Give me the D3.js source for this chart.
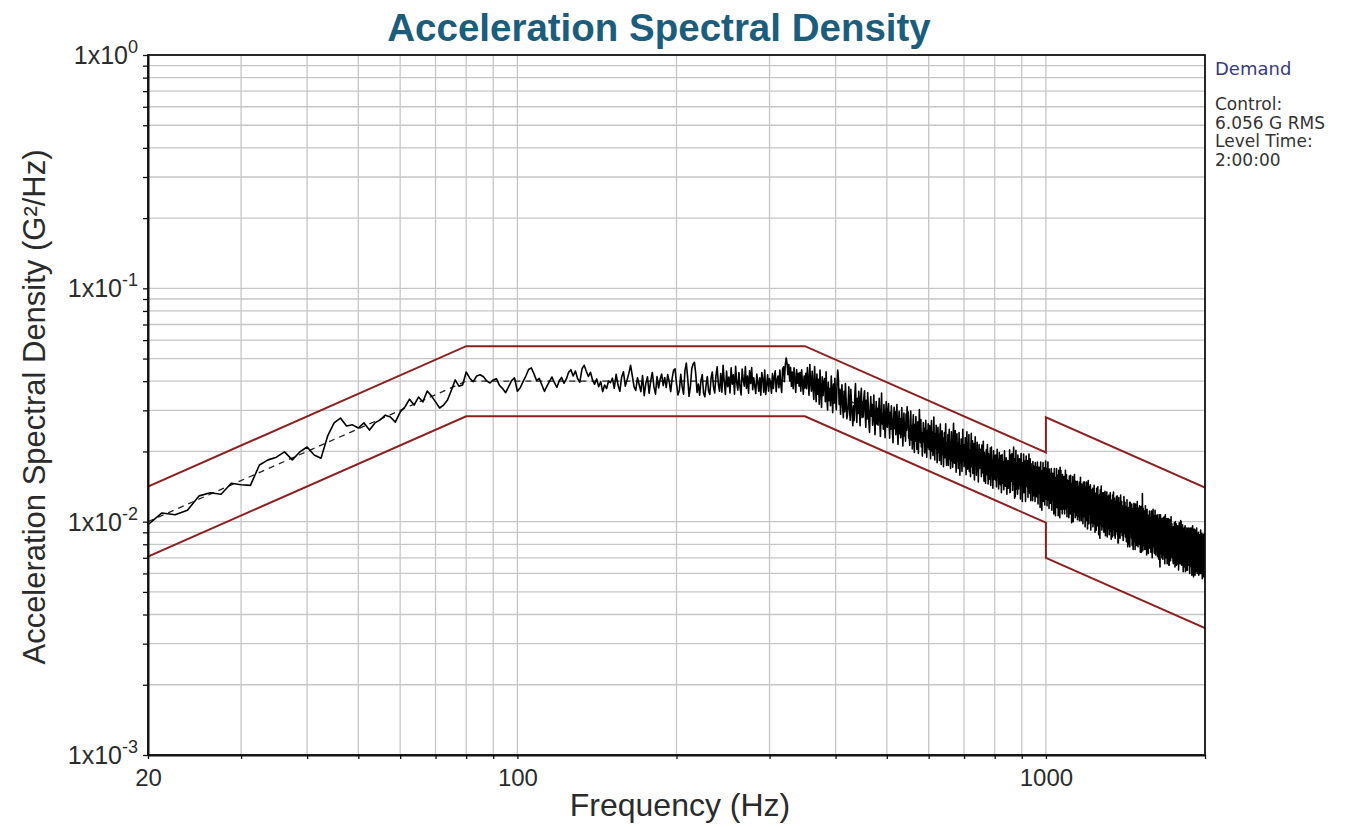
<!DOCTYPE html>
<html>
<head>
<meta charset="utf-8">
<script src="https://cdn.jsdelivr.net/npm/d3@7"></script>
<style>
  body { margin: 0; background: #ffffff; }
  svg { display: block; font-family: Arial, "Liberation Sans", sans-serif; }
</style>
</head>
<body>
<svg id="chart" width="1350" height="827"></svg>
<script>
// ---- Axis ranges and labels ----
const freqDomain = [20, 2000];
const psdDomain = [0.001, 1];
const xTickLabels = [20, 100, 1000];
const yTickExponents = [0, -1, -2, -3];

// ---- Demand profile (G²/Hz) ----
const demandFreq = [20, 80, 350, 2000];
const demandPsd = [0.01, 0.04, 0.04, 0.007];

// ---- Abort limits (G²/Hz) ----
const upperFreq = [20, 80, 350, 1000, 1000, 2000];
const upperPsd = [0.01413, 0.0565, 0.0565, 0.0198, 0.028, 0.014];
const lowerFreq = [20, 80, 350, 1000, 1000, 2000];
const lowerPsd = [0.00708, 0.0283, 0.0283, 0.0099, 0.007, 0.0035];

// ---- Control spectrum, 1.25 Hz lines from 20 Hz ----
const controlStartHz = 20;
const controlStepHz = 1.25;
const controlPsd = [
  // 20 – 80 Hz
  0.0097, 0.0109, 0.0107, 0.0112, 0.0129, 0.0133, 0.0131, 0.0146, 0.0144, 0.0143,
  0.0175, 0.0184, 0.0189, 0.0199, 0.0184, 0.0199, 0.0209, 0.0193, 0.0187, 0.0233,
  0.0265, 0.0278, 0.0257, 0.0260, 0.0252, 0.0265, 0.0247, 0.0265, 0.0273, 0.0286,
  0.0281, 0.0267, 0.0295, 0.0310, 0.0335, 0.0316, 0.0342, 0.0326, 0.0363, 0.0346,
  0.0326, 0.0307, 0.0316, 0.0332, 0.0366, 0.0405, 0.0381, 0.0385, 0.0438,
  // 81.25 – 350 Hz
  0.0412, 0.0398, 0.0421, 0.0426, 0.0418, 0.0401, 0.0393, 0.0405,
  0.0410, 0.0384, 0.0372, 0.0357, 0.0379, 0.0402, 0.0413, 0.0362,
  0.0375, 0.0398, 0.0421, 0.0449, 0.0456, 0.0430, 0.0402, 0.0411,
  0.0385, 0.0362, 0.0381, 0.0399, 0.0417, 0.0394, 0.0376, 0.0402,
  0.0415, 0.0392, 0.0408, 0.0437, 0.0448, 0.0421, 0.0442, 0.0410,
  0.0396, 0.0452, 0.0468, 0.0441, 0.0419, 0.0437, 0.0404, 0.0388,
  0.0409, 0.0379, 0.0398, 0.0361, 0.0385, 0.0372, 0.0401, 0.0394,
  0.0412, 0.0373, 0.0428, 0.0385, 0.0362, 0.0417, 0.0439, 0.0381,
  0.0405, 0.0432, 0.0468, 0.0421, 0.0378, 0.0365, 0.0414, 0.0386,
  0.0361, 0.0423, 0.0347, 0.0392, 0.0418, 0.0355, 0.0401, 0.0436,
  0.0379, 0.0352, 0.0419, 0.0374, 0.0408, 0.0429, 0.0383, 0.0415,
  0.0376, 0.0427, 0.0398, 0.0361, 0.0411, 0.0446, 0.0452, 0.0391,
  0.0349, 0.0366, 0.0428, 0.0379, 0.0352, 0.0445, 0.0478, 0.0412,
  0.0344, 0.0381, 0.0452, 0.0474, 0.0482, 0.0431, 0.0358, 0.0389,
  0.0348, 0.0403, 0.0427, 0.0356, 0.0343, 0.0385, 0.0419, 0.0362,
  0.0351, 0.0412, 0.0438, 0.0377, 0.0356, 0.0422, 0.0461, 0.0389,
  0.0362, 0.0431, 0.0359, 0.0468, 0.0398, 0.0351, 0.0442, 0.0379,
  0.0417, 0.0356, 0.0457, 0.0388, 0.0426, 0.0352, 0.0463, 0.0394,
  0.0366, 0.0436, 0.0378, 0.0349, 0.0451, 0.0405, 0.0381, 0.0462,
  0.0372, 0.0421, 0.0355, 0.0443, 0.0391, 0.0458, 0.0368, 0.0414,
  0.0381, 0.0354, 0.0429, 0.0396, 0.0362, 0.0414, 0.0348, 0.0436,
  0.0408, 0.0359, 0.0447, 0.0351, 0.0389, 0.0426, 0.0362, 0.0411,
  0.0392, 0.0355, 0.0431, 0.0372, 0.0418, 0.0443, 0.0361, 0.0404,
  0.0421, 0.0375, 0.0446, 0.0389, 0.0358, 0.0452, 0.0461, 0.0398,
  0.0468, 0.0503, 0.0479, 0.0426, 0.0471, 0.0402, 0.0459, 0.0381,
  0.0438, 0.0371, 0.0457, 0.0406, 0.0358, 0.0449, 0.0392, 0.0432,
  0.0381, 0.0436, 0.0362, 0.0448, 0.0393, 0.0352, 0.0421, 0.0374,
  // 351.25 – 2000 Hz
  0.0432, 0.0371, 0.0458, 0.0402, 0.0348, 0.0471, 0.0395, 0.0362,
  0.0441, 0.0378, 0.0334, 0.0462, 0.0386, 0.0327, 0.0429, 0.0352,
  0.0408, 0.0319, 0.0447, 0.0361, 0.0309, 0.0418, 0.0347, 0.0392,
  0.0411, 0.0327, 0.0439, 0.0345, 0.0301, 0.0396, 0.0331, 0.0372,
  0.0314, 0.0421, 0.0356, 0.0293, 0.0389, 0.0322, 0.0412, 0.0338,
  0.0302, 0.0391, 0.0447, 0.0408, 0.0318, 0.0369, 0.0289, 0.0352,
  0.0386, 0.0309, 0.0279, 0.0362, 0.0296, 0.0391, 0.0331, 0.0276,
  0.0287, 0.0321, 0.0378, 0.0305, 0.0272, 0.0369, 0.0318, 0.0283,
  0.0258, 0.0314, 0.0271, 0.0352, 0.0391, 0.0302, 0.0266, 0.0338,
  0.0291, 0.0362, 0.0308, 0.0258, 0.0344, 0.0373, 0.0279, 0.0327,
  0.0281, 0.0342, 0.0364, 0.0296, 0.0254, 0.0331, 0.0275, 0.0358,
  0.0312, 0.0267, 0.0241, 0.0299, 0.0344, 0.0283, 0.0318, 0.0259,
  0.0301, 0.0349, 0.0268, 0.0236, 0.0289, 0.0327, 0.0262, 0.0306,
  0.0259, 0.0298, 0.0338, 0.0271, 0.0232, 0.0286, 0.0356, 0.0262,
  0.0291, 0.0249, 0.0318, 0.0274, 0.0229, 0.0283, 0.0327, 0.0256,
  0.0254, 0.0302, 0.0321, 0.0263, 0.0228, 0.0294, 0.0249, 0.0314,
  0.0281, 0.0239, 0.0218, 0.0272, 0.0309, 0.0251, 0.0296, 0.0236,
  0.0279, 0.0318, 0.0243, 0.0214, 0.0262, 0.0297, 0.0238, 0.0276,
  0.0229, 0.0271, 0.0308, 0.0247, 0.0211, 0.0258, 0.0292, 0.0233,
  0.0264, 0.0221, 0.0289, 0.0246, 0.0311, 0.0253, 0.0296, 0.0228,
  0.0236, 0.0212, 0.0271, 0.0298, 0.0224, 0.0259, 0.0205, 0.0254,
  0.0287, 0.0229, 0.0198, 0.0261, 0.0221, 0.0282, 0.0246, 0.0204,
  0.0232, 0.0268, 0.0196, 0.0241, 0.0302, 0.0253, 0.0218, 0.0274,
  0.0209, 0.0241, 0.0191, 0.0226, 0.0266, 0.0219, 0.0251, 0.0197,
  0.0228, 0.0272, 0.0214, 0.0189, 0.0246, 0.0208, 0.0263, 0.0225,
  0.0204, 0.0258, 0.0219, 0.0186, 0.0237, 0.0271, 0.0201, 0.0242,
  0.0192, 0.0233, 0.0281, 0.0217, 0.0184, 0.0239, 0.0206, 0.0259,
  0.0221, 0.0179, 0.0212, 0.0254, 0.0198, 0.0236, 0.0183, 0.0229,
  0.0262, 0.0207, 0.0176, 0.0218, 0.0245, 0.0194, 0.0228, 0.0172,
  0.0203, 0.0241, 0.0188, 0.0224, 0.0263, 0.0196, 0.0174, 0.0219,
  0.0197, 0.0236, 0.0174, 0.0212, 0.0249, 0.0186, 0.0221, 0.0169,
  0.0208, 0.0243, 0.0182, 0.0219, 0.0171, 0.0232, 0.0264, 0.0193,
  0.0178, 0.0212, 0.0246, 0.0189, 0.0163, 0.0203, 0.0238, 0.0181,
  0.0217, 0.0169, 0.0198, 0.0241, 0.0186, 0.0158, 0.0212, 0.0179,
  0.0226, 0.0191, 0.0164, 0.0203, 0.0249, 0.0182, 0.0214, 0.0172,
  0.0206, 0.0174, 0.0229, 0.0188, 0.0159, 0.0214, 0.0243, 0.0177,
  0.0168, 0.0218, 0.0191, 0.0236, 0.0164, 0.0203, 0.0182, 0.0156,
  0.0211, 0.0239, 0.0172, 0.0194, 0.0222, 0.0161, 0.0187, 0.0216,
  0.0173, 0.0151, 0.0201, 0.0231, 0.0176, 0.0206, 0.0158, 0.0189,
  0.0219, 0.0165, 0.0194, 0.0148, 0.0186, 0.0214, 0.0169, 0.0199,
  0.0171, 0.0204, 0.0178, 0.0156, 0.0213, 0.0186, 0.0162, 0.0197,
  0.0221, 0.0169, 0.0149, 0.0198, 0.0166, 0.0192, 0.0146, 0.0181,
  0.0203, 0.0159, 0.0184, 0.0214, 0.0167, 0.0145, 0.0196, 0.0178,
  0.0152, 0.0188, 0.0164, 0.0207, 0.0143, 0.0176, 0.0209, 0.0158,
  0.0184, 0.0155, 0.0139, 0.0181, 0.0201, 0.0152, 0.0172, 0.0192,
  0.0173, 0.0151, 0.0193, 0.0179, 0.0141, 0.0167, 0.0204, 0.0155,
  0.0186, 0.0161, 0.0138, 0.0176, 0.0198, 0.0149, 0.0171, 0.0144,
  0.0192, 0.0166, 0.0133, 0.0157, 0.0194, 0.0169, 0.0146, 0.0181,
  0.0156, 0.0137, 0.0174, 0.0201, 0.0149, 0.0171, 0.0142, 0.0163,
  0.0188, 0.0147, 0.0131, 0.0168, 0.0154, 0.0183, 0.0139, 0.0162,
  0.0183, 0.0144, 0.0203, 0.0133, 0.0134, 0.0193, 0.0167, 0.0149,
  0.0150, 0.0196, 0.0170, 0.0136, 0.0186, 0.0157, 0.0209, 0.0144,
  0.0173, 0.0126, 0.0186, 0.0128, 0.0144, 0.0202, 0.0138, 0.0176,
  0.0152, 0.0179, 0.0131, 0.0193, 0.0165, 0.0138, 0.0185, 0.0157,
  0.0186, 0.0144, 0.0167, 0.0125, 0.0174, 0.0196, 0.0147, 0.0161,
  0.0167, 0.0122, 0.0179, 0.0156, 0.0139, 0.0195, 0.0133, 0.0170,
  0.0182, 0.0141, 0.0164, 0.0122, 0.0170, 0.0191, 0.0144, 0.0158,
  0.0141, 0.0183, 0.0159, 0.0127, 0.0174, 0.0147, 0.0195, 0.0135,
  0.0168, 0.0132, 0.0186, 0.0142, 0.0123, 0.0177, 0.0153, 0.0136,
  0.0142, 0.0167, 0.0123, 0.0181, 0.0154, 0.0129, 0.0173, 0.0147,
  0.0141, 0.0166, 0.0122, 0.0179, 0.0152, 0.0128, 0.0172, 0.0145,
  0.0163, 0.0128, 0.0180, 0.0138, 0.0119, 0.0171, 0.0148, 0.0132,
  0.0171, 0.0132, 0.0154, 0.0115, 0.0159, 0.0180, 0.0135, 0.0148,
  0.0153, 0.0112, 0.0165, 0.0144, 0.0128, 0.0179, 0.0122, 0.0156,
  0.0131, 0.0170, 0.0148, 0.0118, 0.0162, 0.0137, 0.0182, 0.0125,
  0.0130, 0.0169, 0.0146, 0.0117, 0.0160, 0.0135, 0.0180, 0.0124,
  0.0132, 0.0156, 0.0114, 0.0168, 0.0143, 0.0120, 0.0161, 0.0137,
  0.0153, 0.0120, 0.0169, 0.0130, 0.0112, 0.0161, 0.0139, 0.0124,
  0.0161, 0.0124, 0.0145, 0.0108, 0.0150, 0.0169, 0.0127, 0.0139,
  0.0145, 0.0106, 0.0155, 0.0135, 0.0121, 0.0169, 0.0115, 0.0147,
  0.0158, 0.0122, 0.0142, 0.0106, 0.0147, 0.0166, 0.0125, 0.0137,
  0.0142, 0.0104, 0.0171, 0.0133, 0.0118, 0.0166, 0.0113, 0.0145,
  0.0125, 0.0147, 0.0108, 0.0159, 0.0135, 0.0113, 0.0152, 0.0129,
  0.0120, 0.0156, 0.0135, 0.0108, 0.0148, 0.0125, 0.0166, 0.0115,
  0.0143, 0.0113, 0.0159, 0.0122, 0.0105, 0.0151, 0.0130, 0.0116,
  0.0115, 0.0129, 0.0150, 0.0104, 0.0120, 0.0157, 0.0111, 0.0142,
  0.0138, 0.0108, 0.0158, 0.0113, 0.0127, 0.0146, 0.0099, 0.0136,
  0.0128, 0.0117, 0.0156, 0.0138, 0.0100, 0.0133, 0.0114, 0.0148,
  0.0110, 0.0159, 0.0120, 0.0142, 0.0104, 0.0129, 0.0149, 0.0115,
  0.0121, 0.0143, 0.0106, 0.0127, 0.0149, 0.0102, 0.0138, 0.0117,
  0.0120, 0.0142, 0.0105, 0.0126, 0.0148, 0.0101, 0.0137, 0.0116,
  0.0107, 0.0155, 0.0117, 0.0138, 0.0101, 0.0126, 0.0145, 0.0112,
  0.0108, 0.0121, 0.0141, 0.0098, 0.0113, 0.0148, 0.0105, 0.0133,
  0.0122, 0.0111, 0.0148, 0.0131, 0.0095, 0.0126, 0.0109, 0.0141,
  0.0129, 0.0101, 0.0148, 0.0106, 0.0118, 0.0136, 0.0093, 0.0127,
  0.0103, 0.0150, 0.0113, 0.0134, 0.0098, 0.0122, 0.0141, 0.0108,
  0.0119, 0.0108, 0.0144, 0.0128, 0.0092, 0.0123, 0.0106, 0.0137,
  0.0113, 0.0134, 0.0099, 0.0119, 0.0139, 0.0095, 0.0129, 0.0110,
  0.0125, 0.0098, 0.0143, 0.0102, 0.0115, 0.0132, 0.0090, 0.0122,
  0.0102, 0.0115, 0.0133, 0.0092, 0.0107, 0.0139, 0.0099, 0.0126,
  0.0123, 0.0096, 0.0141, 0.0100, 0.0113, 0.0129, 0.0088, 0.0121,
  0.0101, 0.0113, 0.0131, 0.0085, 0.0105, 0.0137, 0.0097, 0.0124,
  0.0098, 0.0142, 0.0107, 0.0126, 0.0092, 0.0115, 0.0133, 0.0102,
  0.0108, 0.0127, 0.0095, 0.0113, 0.0133, 0.0090, 0.0123, 0.0105,
  0.0111, 0.0102, 0.0135, 0.0120, 0.0087, 0.0116, 0.0099, 0.0129,
  0.0111, 0.0101, 0.0134, 0.0119, 0.0086, 0.0115, 0.0099, 0.0128,
  0.0105, 0.0125, 0.0093, 0.0111, 0.0130, 0.0088, 0.0120, 0.0102,
  0.0116, 0.0091, 0.0133, 0.0095, 0.0107, 0.0123, 0.0084, 0.0114,
  0.0096, 0.0107, 0.0124, 0.0086, 0.0100, 0.0130, 0.0092, 0.0118,
  0.0093, 0.0134, 0.0101, 0.0120, 0.0087, 0.0109, 0.0126, 0.0097,
  0.0098, 0.0085, 0.0122, 0.0105, 0.0094, 0.0116, 0.0091, 0.0128,
  0.0104, 0.0092, 0.0129, 0.0088, 0.0113, 0.0111, 0.0081, 0.0119,
  0.0081, 0.0113, 0.0127, 0.0096, 0.0105, 0.0121, 0.0094, 0.0109,
  0.0085, 0.0116, 0.0098, 0.0130, 0.0090, 0.0094, 0.0122, 0.0106,
  0.0122, 0.0104, 0.0087, 0.0117, 0.0099, 0.0096, 0.0113, 0.0083,
  0.0084, 0.0115, 0.0097, 0.0128, 0.0089, 0.0093, 0.0121, 0.0105,
  0.0121, 0.0103, 0.0086, 0.0116, 0.0098, 0.0095, 0.0112, 0.0082,
  0.0099, 0.0088, 0.0124, 0.0084, 0.0108, 0.0106, 0.0078, 0.0114,
  0.0093, 0.0080, 0.0115, 0.0100, 0.0089, 0.0109, 0.0086, 0.0121,
  0.0078, 0.0108, 0.0121, 0.0091, 0.0100, 0.0115, 0.0089, 0.0104,
  0.0108, 0.0085, 0.0119, 0.0091, 0.0079, 0.0114, 0.0098, 0.0088,
  0.0103, 0.0076, 0.0111, 0.0097, 0.0086, 0.0120, 0.0082, 0.0105,
  0.0113, 0.0087, 0.0102, 0.0076, 0.0105, 0.0119, 0.0089, 0.0098,
  0.0088, 0.0114, 0.0099, 0.0079, 0.0108, 0.0092, 0.0122, 0.0084,
  0.0090, 0.0106, 0.0078, 0.0114, 0.0097, 0.0081, 0.0110, 0.0093,
  0.0102, 0.0080, 0.0117, 0.0084, 0.0094, 0.0108, 0.0074, 0.0100,
  0.0095, 0.0087, 0.0116, 0.0103, 0.0074, 0.0099, 0.0085, 0.0110,
  0.0084, 0.0132, 0.0108, 0.0075, 0.0087, 0.0114, 0.0081, 0.0103,
  0.0090, 0.0107, 0.0079, 0.0095, 0.0111, 0.0076, 0.0103, 0.0088,
  0.0081, 0.0117, 0.0088, 0.0104, 0.0076, 0.0095, 0.0110, 0.0084,
  0.0072, 0.0100, 0.0113, 0.0085, 0.0093, 0.0107, 0.0083, 0.0096,
  0.0085, 0.0073, 0.0106, 0.0091, 0.0081, 0.0100, 0.0079, 0.0111,
  0.0108, 0.0092, 0.0077, 0.0104, 0.0088, 0.0085, 0.0100, 0.0074,
  0.0089, 0.0079, 0.0111, 0.0076, 0.0097, 0.0095, 0.0070, 0.0102,
  0.0074, 0.0101, 0.0085, 0.0113, 0.0078, 0.0082, 0.0106, 0.0092,
  0.0081, 0.0106, 0.0092, 0.0073, 0.0100, 0.0085, 0.0112, 0.0078,
  0.0083, 0.0098, 0.0072, 0.0106, 0.0090, 0.0075, 0.0101, 0.0086,
  0.0097, 0.0076, 0.0107, 0.0082, 0.0071, 0.0102, 0.0088, 0.0078,
  0.0102, 0.0079, 0.0092, 0.0069, 0.0095, 0.0107, 0.0081, 0.0088,
  0.0092, 0.0067, 0.0064, 0.0086, 0.0077, 0.0107, 0.0073, 0.0094,
  0.0084, 0.0099, 0.0074, 0.0088, 0.0103, 0.0070, 0.0096, 0.0081,
  0.0077, 0.0086, 0.0099, 0.0069, 0.0080, 0.0104, 0.0074, 0.0094,
  0.0092, 0.0072, 0.0105, 0.0075, 0.0084, 0.0097, 0.0066, 0.0090,
  0.0074, 0.0107, 0.0081, 0.0096, 0.0070, 0.0087, 0.0101, 0.0077,
  0.0085, 0.0078, 0.0103, 0.0092, 0.0066, 0.0088, 0.0076, 0.0098,
  0.0083, 0.0074, 0.0103, 0.0071, 0.0090, 0.0089, 0.0065, 0.0095,
  0.0065, 0.0091, 0.0102, 0.0077, 0.0084, 0.0097, 0.0075, 0.0087,
  0.0068, 0.0093, 0.0079, 0.0105, 0.0072, 0.0076, 0.0098, 0.0085,
  0.0098, 0.0084, 0.0070, 0.0094, 0.0080, 0.0077, 0.0091, 0.0067,
  0.0076, 0.0066, 0.0095, 0.0082, 0.0073, 0.0090, 0.0071, 0.0099,
  0.0095, 0.0073, 0.0085, 0.0064, 0.0089, 0.0100, 0.0075, 0.0082,
  0.0089, 0.0070, 0.0098, 0.0075, 0.0065, 0.0094, 0.0081, 0.0072,
  0.0076, 0.0089, 0.0066, 0.0096, 0.0082, 0.0069, 0.0092, 0.0078,
  0.0085, 0.0062, 0.0091, 0.0079, 0.0071, 0.0099, 0.0067, 0.0086,
  0.0073, 0.0094, 0.0082, 0.0066, 0.0090, 0.0076, 0.0101, 0.0069,
  0.0069, 0.0100, 0.0075, 0.0089, 0.0065, 0.0082, 0.0094, 0.0072,
  0.0085, 0.0067, 0.0097, 0.0070, 0.0078, 0.0090, 0.0061, 0.0084,
  0.0076, 0.0090, 0.0067, 0.0080, 0.0094, 0.0064, 0.0087, 0.0074,
  0.0079, 0.0072, 0.0096, 0.0085, 0.0061, 0.0082, 0.0070, 0.0091,
  0.0069, 0.0078, 0.0090, 0.0062, 0.0072, 0.0094, 0.0067, 0.0085,
  0.0072, 0.0062, 0.0089, 0.0077, 0.0069, 0.0085, 0.0067, 0.0094,
  0.0092, 0.0078, 0.0065, 0.0088, 0.0074, 0.0072, 0.0085, 0.0062,
  0.0060, 0.0083, 0.0094, 0.0070, 0.0077, 0.0089, 0.0069, 0.0080,
  0.0075, 0.0067, 0.0094, 0.0064, 0.0082, 0.0080, 0.0059, 0.0086,
  0.0062, 0.0085, 0.0072, 0.0096, 0.0066, 0.0069, 0.0090, 0.0078,
  0.0080, 0.0058, 0.0086, 0.0074, 0.0066, 0.0093, 0.0063, 0.0081,
  0.0087, 0.0067, 0.0078, 0.0059, 0.0081, 0.0092, 0.0069, 0.0076,
  0.0068, 0.0088, 0.0077, 0.0061, 0.0084, 0.0071, 0.0094, 0.0065,
  0.0070, 0.0082, 0.0060, 0.0089, 0.0076, 0.0063, 0.0085, 0.0072,
  0.0081, 0.0064, 0.0090, 0.0069, 0.0059, 0.0085, 0.0074, 0.0066,
  0.0071, 0.0084, 0.0062, 0.0075, 0.0088, 0.0060, 0.0081, 0.0069,
  0.0064, 0.0092, 0.0069, 0.0082, 0.0060, 0.0075, 0.0087, 0.0067,
  0.0073, 0.0067, 0.0089, 0.0079, 0.0057, 0.0076, 0.0065, 0.0085,
  0.0064, 0.0072, 0.0084, 0.0058, 0.0067, 0.0088, 0.0062, 0.0079,
  0.0077, 0.0061, 0.0089, 0.0063, 0.0071, 0.0082, 0.0056, 0.0076
];

// ---- Side panel text ----
const legendTitle = "Demand";
const legendLines = ["Control:", "6.056 G RMS", "Level Time:", "2:00:00"];

// ---- Layout ----
const plot = { left: 148, top: 55, right: 1205, bottom: 755 };

const svg = d3.select("#chart");

const x = d3.scaleLog().domain(freqDomain).range([plot.left, plot.right]);
const y = d3.scaleLog().domain(psdDomain).range([plot.bottom, plot.top]);

// Title
svg.append("text")
  .attr("x", 659).attr("y", 41)
  .attr("text-anchor", "middle")
  .attr("font-size", 38.5).attr("font-weight", "bold")
  .attr("fill", "#1c5d7c")
  .text("Acceleration Spectral Density");

// Clip region for the data
svg.append("defs").append("clipPath").attr("id", "plot-clip")
  .append("rect")
  .attr("x", plot.left).attr("y", plot.top)
  .attr("width", plot.right - plot.left).attr("height", plot.bottom - plot.top);

// Grid
const xGrid = x.ticks().filter(d => d > freqDomain[0] && d < freqDomain[1]);
const yGrid = y.ticks().filter(d => d > psdDomain[0] * 1.0001 && d < psdDomain[1] * 0.9999);

const grid = svg.append("g").attr("stroke", "#c6c6c6").attr("stroke-width", 1.3);
grid.selectAll("line.v").data(xGrid).join("line")
  .attr("class", "v")
  .attr("x1", d => x(d)).attr("x2", d => x(d))
  .attr("y1", plot.top).attr("y2", plot.bottom);
grid.selectAll("line.h").data(yGrid).join("line")
  .attr("class", "h")
  .attr("x1", plot.left).attr("x2", plot.right)
  .attr("y1", d => y(d)).attr("y2", d => y(d));

// Series
const toPoints = (fs, vs) => fs.map((f, i) => ({ f, v: vs[i] }));
const line = d3.line().x(d => x(d.f)).y(d => y(d.v));

const data = svg.append("g").attr("clip-path", "url(#plot-clip)").attr("fill", "none");

data.append("path")
  .attr("d", line(toPoints(upperFreq, upperPsd)))
  .attr("stroke", "#8e1f1f").attr("stroke-width", 2);
data.append("path")
  .attr("d", line(toPoints(lowerFreq, lowerPsd)))
  .attr("stroke", "#8e1f1f").attr("stroke-width", 2);

data.append("path")
  .attr("d", line(toPoints(demandFreq, demandPsd)))
  .attr("stroke", "#222").attr("stroke-width", 1.3)
  .attr("stroke-dasharray", "6,5");

const controlPoints = controlPsd.map((v, i) => ({ f: controlStartHz + i * controlStepHz, v }));
data.append("path")
  .attr("d", line(controlPoints))
  .attr("stroke", "#000").attr("stroke-width", 1.6)
  .attr("stroke-linejoin", "round");

// Frame
svg.append("rect")
  .attr("x", plot.left).attr("y", plot.top)
  .attr("width", plot.right - plot.left).attr("height", plot.bottom - plot.top)
  .attr("fill", "none").attr("stroke", "#111").attr("stroke-width", 1.8);

// Y axis
const yAxis = svg.append("g")
  .attr("transform", `translate(${plot.left},0)`)
  .call(d3.axisLeft(y).tickValues(y.ticks()).tickSize(5).tickSizeOuter(0).tickFormat(() => ""));
yAxis.select(".domain").attr("stroke", "#111").attr("stroke-width", 2);
yAxis.selectAll(".tick line").attr("stroke", "#111").attr("stroke-width", 1.3);

const yLabels = svg.append("g")
  .attr("font-size", 25).attr("fill", "#2b2b2b").attr("text-anchor", "end");
yLabels.selectAll("text").data(yTickExponents).join("text")
  .attr("x", 138)
  .attr("y", e => y(Math.pow(10, e)) + 9)
  .each(function (e) {
    const t = d3.select(this);
    t.append("tspan").text("1x10");
    t.append("tspan").attr("dy", -11).attr("font-size", 18).text(String(e));
  });

// X axis
const xAxis = svg.append("g")
  .attr("transform", `translate(0,${plot.bottom})`)
  .call(d3.axisBottom(x).tickValues(x.ticks()).tickSize(4).tickSizeOuter(0)
    .tickFormat(d => xTickLabels.includes(Math.round(d)) ? String(Math.round(d)) : ""));
xAxis.select(".domain").attr("stroke", "#111").attr("stroke-width", 2);
xAxis.selectAll(".tick line").attr("stroke", "#111").attr("stroke-width", 1.3);
xAxis.selectAll(".tick text")
  .attr("y", 31).attr("dy", null)
  .attr("font-size", 24).attr("fill", "#2b2b2b")
  .attr("font-family", "Arial, 'Liberation Sans', sans-serif");

// Axis titles
svg.append("text")
  .attr("x", 680).attr("y", 816)
  .attr("text-anchor", "middle")
  .attr("font-size", 32).attr("fill", "#2b2b2b")
  .text("Frequency (Hz)");

svg.append("text")
  .attr("transform", "translate(45,407) rotate(-90)")
  .attr("text-anchor", "middle")
  .attr("font-size", 31).attr("fill", "#2b2b2b")
  .text("Acceleration Spectral Density (G²/Hz)");

// Side panel
const side = svg.append("g").attr("font-family", "'DejaVu Sans', Verdana, sans-serif");
side.append("text")
  .attr("x", 1215).attr("y", 75)
  .attr("font-size", 18).attr("fill", "#3a3a7e")
  .text(legendTitle);
side.selectAll("text.info").data(legendLines).join("text")
  .attr("class", "info")
  .attr("x", 1215)
  .attr("y", (d, i) => 110 + i * 18.5)
  .attr("font-size", 17).attr("fill", "#333")
  .text(d => d);
</script>
</body>
</html>
